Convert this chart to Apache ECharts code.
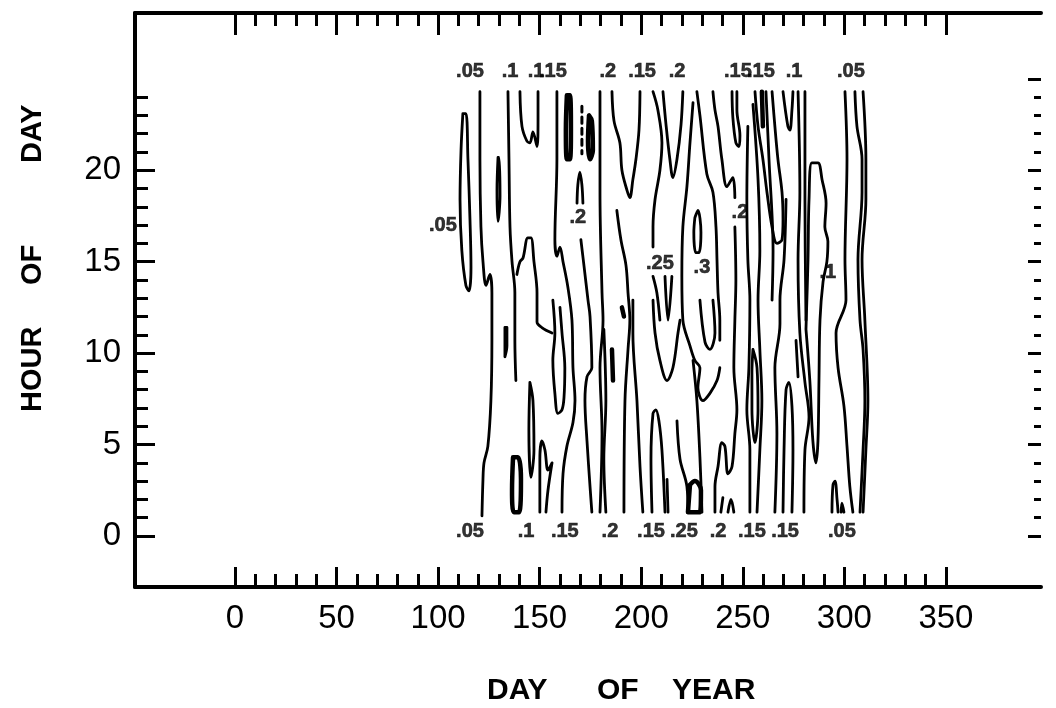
<!DOCTYPE html>
<html>
<head>
<meta charset="utf-8">
<script src="https://cdn.jsdelivr.net/npm/echarts@6/dist/echarts.min.js"></script>
<style>
  html, body { margin: 0; padding: 0; background: #fff; }
  #chart { width: 1056px; height: 708px; }
</style>
</head>
<body>
<div id="chart"></div>
<script>
// ---- axis ticks ----
const dayMajor = [0, 50, 100, 150, 200, 250, 300, 350];
const dayMinor = [10, 20, 30, 40, 60, 70, 80, 90, 110, 120, 130, 140, 160, 170, 180, 190,
  210, 220, 230, 240, 260, 270, 280, 290, 310, 320, 330, 340];
const hourMajor = [0, 5, 10, 15, 20];
const hourMinor = [1, 2, 3, 4, 6, 7, 8, 9, 11, 12, 13, 14, 16, 17, 18, 19, 21, 22, 23, 24];
const hourMajorRight = [0, 5, 10, 15, 20, 25];
const hourMinorRight = [1, 2, 3, 4, 6, 7, 8, 9, 11, 12, 13, 14, 16, 17, 18, 19, 21, 22, 23, 24];

// ---- contour lines, [day of year, hour of day] ----
const iso01 = [[112.2,23.1],[111.3,21.1],[110.8,18.4],[111.7,15.6],[113.7,13.7],[115.2,13.4],[116.2,14.7],[115.7,17.3],[114.7,20.6],[113.7,23.1],[112.2,23.1]];
const iso02 = [[120.6,24.3],[120.6,20.6],[121.1,16.9],[122.1,15.0],[123.6,13.7],[125.5,14.3],[126.5,13.3],[126.5,10.7],[126.0,7.4],[124.5,4.9],[122.6,4.0],[122.1,3.1],[121.6,1.1]];
const iso03 = [[129.5,20.7],[129.0,18.9],[129.5,17.2],[130.5,18.6],[130.0,20.7],[129.5,20.7]];
const iso04 = [[132.9,11.4],[132.9,9.8],[133.9,10.4],[133.9,11.4],[132.9,11.4]];
const iso05 = [[134.4,24.3],[134.9,20.6],[135.4,16.9],[136.4,15.0],[137.8,13.3],[137.8,10.7],[138.3,8.5]];
const iso06 = [[136.9,4.3],[136.4,2.5],[137.3,1.3],[139.8,1.3],[140.8,3.1],[139.3,4.3],[136.9,4.3]];
const iso07 = [[140.3,24.3],[141.3,22.4],[143.7,21.6],[145.2,21.5],[146.7,22.1],[148.7,21.3],[149.2,22.7],[149.2,24.3]];
const iso08 = [[138.8,14.3],[140.3,15.0],[141.8,15.2],[144.2,16.3],[145.7,16.3],[147.2,15.0],[148.7,13.3],[148.7,11.7],[151.1,11.4],[156.1,11.1]];
const iso09 = [[156.5,12.9],[157.5,11.1],[156.5,9.6],[157.5,7.8],[159.0,6.7],[161.0,6.9],[162.0,7.6],[162.4,9.2],[161.0,11.1],[160.0,12.5]];
const iso10 = [[158.5,24.3],[158.5,20.6],[157.5,16.2],[158.5,15.3],[160.0,15.8],[161.5,15.0],[163.9,13.6],[165.9,11.8],[166.4,9.2],[167.4,7.4],[166.4,6.2],[163.4,4.9],[161.5,3.4],[161.0,1.3]];
const iso11 = [[163.4,24.1],[162.9,22.2],[163.4,20.6],[164.9,20.6],[165.4,22.2],[164.9,24.1],[163.4,24.1]];
const iso12 = [[170.8,23.5],[170.8,20.9]];
const iso13 = [[174.3,23.0],[173.8,21.6],[174.8,20.6],[176.2,21.1],[175.7,22.7],[174.3,23.0]];
const iso14 = [[168.4,18.2],[168.8,19.2],[169.8,19.9],[170.8,19.2],[171.3,18.2]];
const iso15 = [[179.7,24.3],[179.7,18.8],[180.7,13.3],[181.2,11.8],[179.7,9.2],[180.7,5.6],[179.7,1.3]];
const iso16 = [[170.3,16.2],[171.8,14.8],[173.8,12.9],[174.8,12.0],[175.7,9.2],[173.3,8.7],[172.3,7.4],[173.3,5.2],[174.8,2.7],[175.7,1.3]];
const iso17 = [[185.6,24.3],[186.6,22.7],[189.5,21.5],[190.5,20.0],[193.0,18.9],[194.4,18.5],[195.9,19.5],[197.4,20.6],[198.9,22.2],[199.4,24.3]];
const iso18 = [[188.0,17.8],[190.0,16.2],[192.5,14.8],[193.5,13.3],[194.4,11.8],[193.5,10.2],[192.0,7.4],[191.5,1.3]];
const iso19 = [[195.9,12.9],[195.9,11.1],[197.9,7.4],[199.4,3.8],[200.8,1.3]];
const iso20 = [[205.3,1.3],[204.8,4.2],[205.8,6.7],[207.2,6.9],[208.7,6.3],[210.2,4.7],[211.7,1.3]];
const iso21 = [[205.8,12.9],[206.8,11.1],[209.2,9.6],[212.7,8.5],[215.6,9.2],[218.1,11.1],[219.1,11.8]];
const iso22 = [[205.8,24.3],[208.2,23.3],[210.2,21.5],[209.2,20.0],[206.8,18.4],[205.8,16.9],[205.8,15.8]];
const iso23 = [[210.7,24.3],[212.2,22.5],[214.1,20.6],[215.6,19.6],[217.6,20.6],[219.6,22.5],[220.5,24.3]];
const iso24 = [[205.8,14.2],[207.7,13.3],[209.2,11.8]];
const iso25 = [[211.7,14.2],[213.2,11.8],[215.1,14.2]];
const iso26 = [[225.5,23.7],[224.0,21.5],[222.5,19.1],[220.5,16.9],[220.0,14.2],[220.5,11.8],[224.0,10.4],[226.4,9.6],[228.9,9.2],[227.9,8.1],[230.4,7.4],[233.8,7.8],[237.3,8.5],[238.7,9.2]];
const iso27 = [[226.4,17.4],[227.9,17.8],[229.4,16.6],[228.4,15.5],[226.9,15.5],[225.9,16.6],[226.4,17.4]];
const iso28 = [[227.4,24.3],[228.9,23.0],[232.3,19.8],[235.3,18.8],[236.8,16.9],[237.3,15.1],[237.8,13.3],[238.7,11.8],[238.7,10.7]];
const iso29 = [[235.3,24.3],[236.3,23.3],[237.8,22.4],[239.7,20.6],[242.2,19.1],[245.1,19.6],[246.1,18.5]];
const iso30 = [[244.7,24.3],[245.1,22.9],[246.6,21.5],[248.1,21.3],[248.6,21.9],[247.1,23.3],[247.1,24.3]];
const iso31 = [[246.1,16.9],[246.6,14.0],[246.1,11.8],[245.6,9.2],[247.1,6.9],[246.1,5.6],[244.7,3.8],[242.7,3.4],[241.2,4.9],[239.7,5.1],[237.8,3.8],[236.3,2.7],[236.3,1.3]];
const iso32 = [[228.9,12.9],[231.4,10.6],[233.8,10.2],[236.3,11.1],[235.3,12.9]];
const iso33 = [[256.0,24.3],[257.5,22.4],[259.9,20.6],[261.9,18.8],[264.4,16.9],[266.8,16.0],[269.3,16.2],[269.8,17.3],[269.3,18.8],[267.3,20.6],[265.8,22.4],[264.4,24.3]];
const iso34 = [[259.4,24.3],[259.9,22.4]];
const iso35 = [[269.8,24.3],[272.2,22.4],[273.2,22.2],[274.2,23.3],[274.7,24.3]];
const iso36 = [[277.2,24.3],[278.1,18.8],[277.2,15.1],[278.1,11.1],[280.6,8.4],[282.6,6.5],[280.6,4.7],[280.1,1.3]];
const iso37 = [[280.6,24.3],[280.6,18.4],[281.1,11.8]];
const iso38 = [[281.1,11.3],[282.1,15.1],[282.6,18.4],[284.0,20.4],[287.0,20.4],[289.0,19.5],[291.0,18.2],[290.4,16.9],[291.9,16.1],[291.4,15.0],[289.5,13.9],[288.0,11.8],[287.5,8.5],[287.0,5.2],[286.0,4.0],[284.5,5.2],[283.0,8.5],[281.1,11.3]];
const iso39 = [[300.3,24.3],[301.3,20.6],[300.3,15.1],[300.8,12.9],[295.9,11.1],[296.9,9.2],[299.8,7.1],[301.3,4.9],[302.7,2.7],[304.2,1.3]];
const iso40 = [[305.2,24.3],[306.2,22.4],[308.7,20.6],[308.7,18.8],[306.7,15.1],[307.7,11.8],[309.2,10.2],[310.1,7.4],[309.2,4.7],[307.7,1.3]];
const iso41 = [[309.2,24.3],[310.6,20.6],[310.6,18.4],[308.7,15.1],[310.1,11.8],[311.6,7.4],[310.6,4.7],[309.2,1.3]];
const iso42 = [[293.9,1.3],[294.4,2.8],[295.4,3.0],[296.4,2.0],[296.9,1.3]];
const iso43 = [[298.4,1.3],[298.8,1.8],[299.8,1.3]];
const iso44 = [[252.5,22.4],[252.0,18.4],[252.5,15.1],[253.5,12.9],[253.0,9.2],[252.0,6.9],[253.5,4.7],[253.5,1.3]];
const iso45 = [[255.0,23.6],[257.5,19.5],[258.4,15.6],[257.5,12.9],[258.4,10.2],[259.4,7.4],[258.4,4.7],[257.0,1.3]];
const iso46 = [[255.0,10.2],[257.0,9.2],[257.5,6.9],[256.0,5.1],[254.5,6.9],[254.5,8.9],[255.0,10.2]];
const iso47 = [[271.3,18.4],[270.3,15.1],[268.3,12.9],[268.3,11.6],[265.8,9.2],[266.8,5.6],[265.8,1.3]];
const iso48 = [[269.8,1.3],[270.3,4.7],[271.3,8.0],[272.7,8.4],[274.2,7.1],[274.7,4.7],[274.2,1.3]];
const iso49 = [[276.2,10.7],[277.2,8.7]];
const iso50 = [[145.2,8.4],[144.7,5.8],[145.7,3.2],[147.2,4.7],[146.7,7.4],[145.2,8.4]];
const iso51 = [[150.1,1.3],[150.1,4.2],[151.1,5.2],[152.6,4.7],[154.1,3.6],[156.1,4.0],[154.1,2.5],[153.1,1.3]];
const iso52 = [[181.6,11.3],[182.6,7.4],[181.6,4.2],[182.6,1.3]];
const iso53 = [[212.7,3.1],[213.2,1.3]];
const iso54 = [[217.6,6.3],[219.1,4.2],[222.5,2.7],[223.0,1.3]];
const iso55 = [[225.5,9.6],[227.4,7.4],[228.9,4.3],[229.9,1.3]];
const iso56 = [[239.2,1.3],[240.2,2.1]];
const iso57 = [[242.7,1.3],[244.2,2.0],[245.6,1.3]];
const iso58 = [[261.4,24.3],[262.9,20.6],[264.9,15.6],[264.4,12.9]];
const heavy01 = [[185.6,10.2],[186.1,8.5]];
const heavy02 = [[190.5,12.5],[191.5,12.0]];
const heavy03 = [[224.0,2.8],[223.0,1.3],[228.9,1.3],[229.4,2.5],[226.4,3.0],[224.0,2.8]];

const contourLines = [iso01, iso02, iso03, iso04, iso05, iso07, iso08, iso09, iso10, iso14, iso15, iso16,
  iso17, iso18, iso19, iso20, iso21, iso22, iso23, iso24, iso25, iso26, iso27, iso28, iso29, iso30, iso31,
  iso32, iso33, iso35, iso36, iso37, iso38, iso39, iso40, iso41, iso42, iso43, iso44, iso45, iso46, iso47,
  iso48, iso49, iso50, iso51, iso52, iso53, iso54, iso55, iso56, iso57, iso58];
const heavyLines = [iso06, iso11, iso13, iso34, heavy01, heavy02, heavy03];
const dashedLines = [iso12];

// ---- contour level labels: [day, hour, text] ----
const topLevelLabels = [[115.7,25.4,'.05'],[135.4,25.4,'.1'],[148.2,25.4,'.1'],[156.5,25.4,'.15'],[183.6,25.4,'.2'],
  [200.4,25.4,'.15'],[217.6,25.4,'.2'],[247.6,25.4,'.15'],[258.9,25.4,'.15'],[275.2,25.4,'.1'],[303.2,25.4,'.05']];
const bottomLevelLabels = [[115.7,0.27,'.05'],[143.3,0.27,'.1'],[162.4,0.27,'.15'],[184.6,0.27,'.2'],[204.8,0.27,'.15'],
  [221.0,0.27,'.25'],[237.8,0.27,'.2'],[254.5,0.27,'.15'],[270.8,0.27,'.15'],[298.8,0.27,'.05']];
const innerLevelLabels = [[102.4,17.0,'.05'],[168.8,17.4,'.2'],[209.2,14.9,'.25'],[229.9,14.7,'.3'],[248.6,17.7,'.2'],[291.9,14.4,'.1']];

const DAY_MIN = -49.2, DAY_MAX = 396.8;
const HOUR_MIN = -2.79, HOUR_MAX = 28.6;
const FONT = 'Liberation Sans, Arial, Helvetica, sans-serif';
const INK = '#000';

function xAx(pos, ticks, len, withLine, labels) {
  return {
    type: 'value', position: pos, min: DAY_MIN, max: DAY_MAX,
    axisLine: { show: withLine, onZero: false, lineStyle: { color: INK, width: 4 } },
    axisTick: { show: true, inside: true, length: len, customValues: ticks, lineStyle: { color: INK, width: 3 } },
    axisLabel: labels ? { show: true, customValues: ticks, fontSize: 33, color: INK, fontFamily: FONT, margin: 15 } : { show: false },
    splitLine: { show: false }
  };
}
function yAx(pos, ticks, len, withLine, labels) {
  return {
    type: 'value', position: pos, min: HOUR_MIN, max: HOUR_MAX,
    axisLine: { show: withLine, onZero: false, lineStyle: { color: INK, width: 4 } },
    axisTick: { show: true, inside: true, length: len, customValues: ticks, lineStyle: { color: INK, width: 3 } },
    axisLabel: labels ? { show: true, customValues: ticks, fontSize: 33, color: INK, fontFamily: FONT, margin: 14 } : { show: false },
    splitLine: { show: false }
  };
}

function lineSeries(pts, width, dashed) {
  return {
    type: 'line', data: pts, xAxisIndex: 0, yAxisIndex: 0,
    showSymbol: false, symbol: 'none', smooth: 0.35, silent: true, animation: false,
    lineStyle: { color: INK, width: width, type: dashed ? [6, 5] : 'solid', cap: 'round', join: 'round' }
  };
}
function labelSeries(list) {
  return {
    type: 'scatter', data: list, xAxisIndex: 0, yAxisIndex: 0, symbolSize: 1, silent: true, animation: false,
    itemStyle: { color: 'rgba(0,0,0,0)' },
    label: { show: true, position: 'inside', formatter: p => p.data[2], fontSize: 20, fontWeight: 'bold',
      color: INK, fontFamily: FONT, textBorderColor: INK, textBorderWidth: 0.6 }
  };
}

const series = [];
contourLines.forEach(l => series.push(lineSeries(l, 2.8, false)));
heavyLines.forEach(l => series.push(lineSeries(l, 4.5, false)));
dashedLines.forEach(l => series.push(lineSeries(l, 3, true)));
series.push(labelSeries(topLevelLabels), labelSeries(bottomLevelLabels), labelSeries(innerLevelLabels));

const chart = echarts.init(document.getElementById('chart'), null, { renderer: 'canvas' });
chart.setOption({
  backgroundColor: '#fff',
  animation: false,
  grid: { left: 135, top: 13, right: 15, bottom: 121, containLabel: false },
  xAxis: [
    xAx('bottom', dayMajor, 20, true, true),
    xAx('bottom', dayMinor, 13, false, false),
    xAx('top', dayMajor, 22, true, false),
    xAx('top', dayMinor, 13, false, false)
  ],
  yAxis: [
    yAx('left', hourMajor, 20, true, true),
    yAx('left', hourMinor, 13, false, false),
    yAx('right', hourMajorRight, 13, false, false),
    yAx('right', hourMinorRight, 7, false, false)
  ],
  graphic: [
    { type: 'text', left: 487, top: 676, style: { text: 'DAY', font: 'bold 30px ' + FONT, fill: INK } },
    { type: 'text', left: 597, top: 676, style: { text: 'OF', font: 'bold 30px ' + FONT, fill: INK } },
    { type: 'text', left: 672, top: 676, style: { text: 'YEAR', font: 'bold 30px ' + FONT, fill: INK } },
    { type: 'text', x: 18, y: 412, rotation: Math.PI / 2, style: { text: 'HOUR', font: 'bold 29px ' + FONT, fill: INK } },
    { type: 'text', x: 18, y: 285, rotation: Math.PI / 2, style: { text: 'OF', font: 'bold 29px ' + FONT, fill: INK } },
    { type: 'text', x: 18, y: 163, rotation: Math.PI / 2, style: { text: 'DAY', font: 'bold 29px ' + FONT, fill: INK } }
  ],
  series: series
});
</script>
</body>
</html>
